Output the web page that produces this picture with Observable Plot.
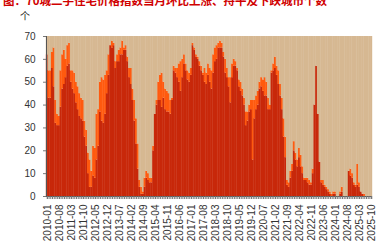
<!DOCTYPE html>
<html><head><meta charset="utf-8">
<script src="https://cdn.jsdelivr.net/npm/d3@7"></script>
<script src="https://cdn.jsdelivr.net/npm/@observablehq/plot@0.6"></script>
<style>
body{margin:0;background:#fff;}
#wrap{position:relative;width:379px;height:248px;overflow:hidden;}
#title{position:absolute;left:3px;top:-5.5px;font:bold 11.5px/11.5px "Noto Sans CJK SC";color:#d00000;white-space:nowrap;}
#unit{position:absolute;left:20px;top:11px;font:10px/10px "Noto Sans CJK SC";color:#222;}
#chart{position:absolute;left:0;top:28px;}
</style></head><body>
<div id="wrap"><div id="title">图：70城二手住宅价格指数当月环比上涨、持平及下跌城市个数</div><div id="unit">个</div><div id="chart"></div></div>
<script>
const months = [];
for (let y = 2010; y <= 2025; y++) for (let m = 1; m <= 12; m++) { if (y === 2025 && m > 10) break; months.push(`${y}-${String(m).padStart(2, "0")}`); }
const tickLabels = ["2010-01","2010-08","2011-03","2011-10","2012-05","2012-12","2013-07","2014-02","2014-09","2015-04","2015-11","2016-06","2017-01","2017-08","2018-03","2018-10","2019-05","2019-12","2020-07","2021-02","2021-09","2022-04","2022-11","2023-06","2024-01","2024-08","2025-03","2025-10"];
const yTicks = [0,10,20,30,40,50,60,70];
const series = ["上涨","持平","下跌"];
const rise = [62,43,43,56,48,32,31,31,39,47, 49,52,57,58,50,47,45,41,38,35, 34,33,26,22,10,4,4,9,8,16, 22,37,33,32,36,45,53,66,65,66, 56,59,59,62,62,64,64,59,52,49, 42,33,23,12,4,1,1,4,8,7, 6,6,20,36,40,42,42,39,43,38, 37,37,36,42,55,54,52,50,46,52, 58,55,51,50,53,66,64,61,60,57, 55,53,50,49,53,50,47,54,59,60, 65,65,65,61,54,52,48,41,52,57, 57,55,48,46,44,40,31,33,37,38, 16,34,38,40,47,48,46,44,44,38, 38,54,55,56,53,49,44,38,26,17, 5,4,8,11,20,16,13,17,13,10, 7,7,6,5,5,10,40,57,36,15, 6,5,4,3,2,1,0,1,1,0, 0,1,2,0,0,0,11,9,8,5, 4,5,4,2,1,0,0,0,0,0];
const flat = [0,12,12,7,17,10,5,4,16,15, 15,8,9,9,5,8,9,9,10,10, 9,9,7,7,9,12,7,13,13,20, 16,13,19,19,17,10,9,0,3,1, 3,3,5,3,6,1,2,2,4,7, 5,9,11,11,3,3,1,4,3,3, 2,2,2,0,2,8,11,15,7,9, 9,8,6,1,2,2,4,8,13,8, 4,3,4,4,3,1,1,1,1,2, 2,1,6,5,5,6,8,8,6,6, 2,3,2,2,6,4,4,11,6,3, 2,1,3,4,3,3,6,4,3,4, 26,8,6,6,3,4,5,8,6,5, 2,1,3,5,4,6,5,5,8,9, 2,2,3,3,4,3,3,4,5,3, 1,1,2,2,1,2,0,0,0,0, 1,2,1,1,1,1,1,1,1,0, 0,1,2,0,0,0,0,3,2,1, 1,9,2,0,0,1,0,0,0,0];
const fall = [8,15,15,7,5,28,34,35,15,8, 6,10,4,3,15,15,16,20,22,25, 27,28,37,41,51,54,59,48,49,34, 32,20,18,19,17,15,8,4,2,3, 11,8,6,5,2,5,4,9,14,14, 23,28,36,47,63,66,68,62,59,60, 62,62,48,34,28,20,17,16,20,23, 24,25,28,27,13,14,14,12,11,10, 8,12,15,16,14,3,5,8,9,11, 13,16,14,16,12,14,15,8,5,4, 3,2,3,7,10,14,18,18,12,10, 11,14,19,20,23,27,33,33,30,28, 28,28,26,24,20,18,19,18,20,27, 30,15,12,9,13,15,21,27,36,44, 63,64,59,56,46,51,54,49,52,57, 62,62,62,63,64,58,30,13,34,55, 63,63,65,66,67,68,69,68,68,70, 70,68,66,70,70,70,59,58,60,64, 65,56,64,68,69,69,70,70,70,70];
const data = months.flatMap((m, i) => [
  {month: m, series: series[0], value: rise[i]},
  {month: m, series: series[1], value: flat[i]},
  {month: m, series: series[2], value: fall[i]}
]);
const chart = Plot.plot({
  width: 379, height: 220, marginTop: 8, marginBottom: 52, marginLeft: 46, marginRight: 7,
  style: {fontFamily: "'Liberation Sans', Arial, sans-serif", fontSize: "10px", color: "#333", background: "transparent"},
  x: {type: "band", domain: months, padding: 0},
  y: {domain: [0, 70]},
  color: {domain: series, range: ["#c8280a", "#ff5a0f", "#d6b892"]},
  marks: [
    Plot.barY(data, {x: "month", y: "value", fill: "series", insetLeft: -0.2, insetRight: -0.2}),
    Plot.ruleY([0], {stroke: "#555"}),
    Plot.frame({anchor: "left", stroke: "#555"}),
    Plot.axisY({ticks: yTicks, tickSize: 3, tickPadding: 8, stroke: "#777", label: null}),
    Plot.axisX({ticks: months, tickSize: 3, tickFormat: () => "", stroke: "#777", label: null}),
    Plot.axisX({ticks: tickLabels, tickSize: 3, tickRotate: -90, tickPadding: 5, stroke: "#777", label: null})
  ]
});
document.getElementById("chart").append(chart);
</script>
</body></html>
